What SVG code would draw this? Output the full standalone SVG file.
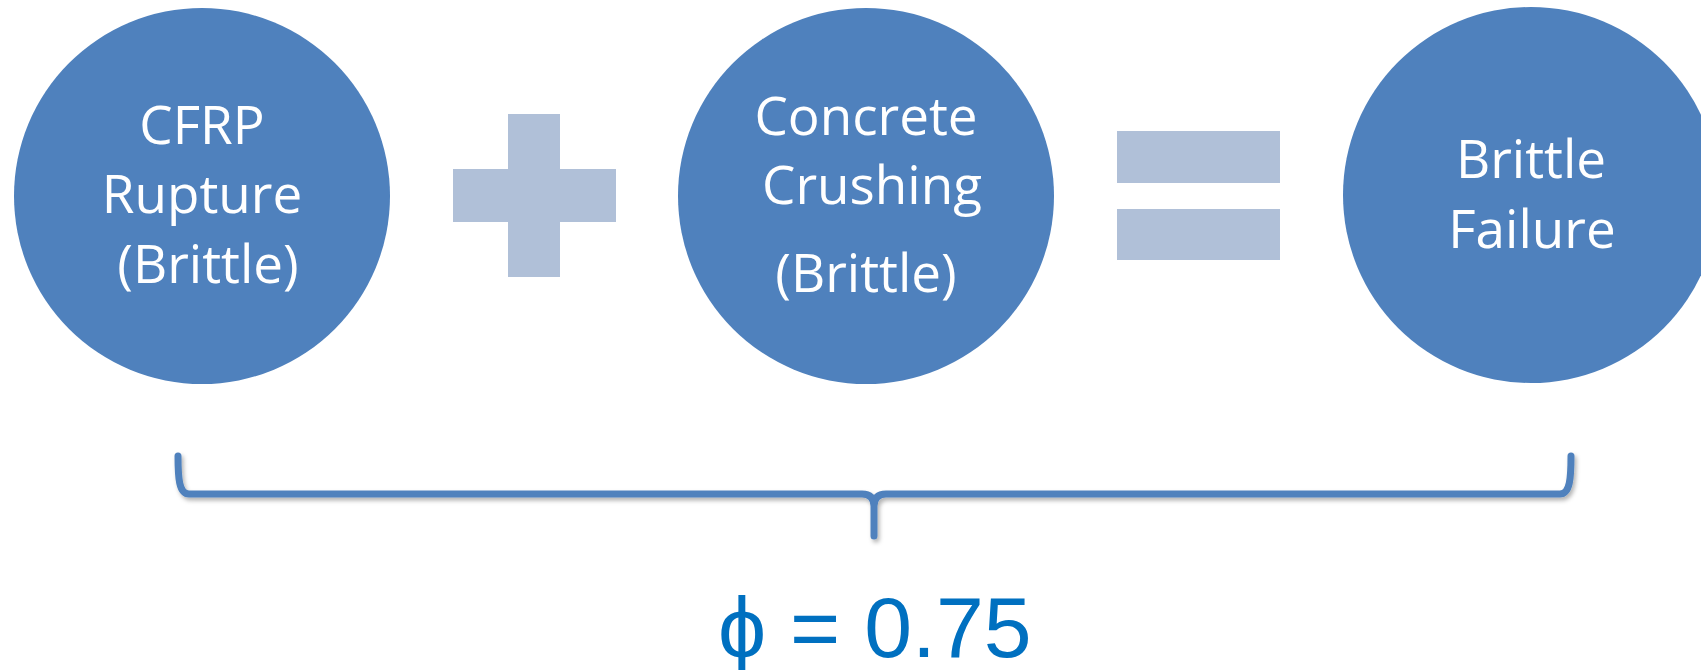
<svg xmlns="http://www.w3.org/2000/svg" width="1701" height="670" viewBox="0 0 1701 670">
  <style>
    .node { fill: #4F81BD; }
    .label { fill: #FFFFFF; font-family: "Open Sans", "Noto Sans", sans-serif; font-size: 53px; text-anchor: middle; font-variant-ligatures: none; }
    .op { fill: #B0C0D8; }
    .brace { fill: none; stroke: #4F81BD; stroke-width: 7; stroke-linecap: round; stroke-linejoin: round; }
    .phi { fill: #0070C0; font-family: "Liberation Sans", Arial, sans-serif; font-size: 86px; }
  </style>
  <defs>
    <filter id="shadow" x="-5%" y="-50%" width="110%" height="200%">
      <feDropShadow dx="2" dy="3" stdDeviation="2" flood-color="#000000" flood-opacity="0.3"/>
    </filter>
  </defs>
  <rect width="1701" height="670" fill="#FFFFFF"/>

  <g id="node-cfrp">
    <circle class="node" cx="202" cy="196" r="188"/>
    <text class="label" x="202" y="144">CFRP</text>
    <text class="label" x="202" y="213">Rupture</text>
    <text class="label" x="208" y="283">(Brittle)</text>
  </g>

  <g id="op-plus">
    <rect class="op" x="508" y="114" width="52" height="163"/>
    <rect class="op" x="453" y="169" width="163" height="53"/>
  </g>

  <g id="node-concrete">
    <circle class="node" cx="866" cy="196" r="188"/>
    <text class="label" x="866" y="135">Concrete</text>
    <text class="label" x="872" y="204">Crushing</text>
    <text class="label" x="866" y="292">(Brittle)</text>
  </g>

  <g id="op-equals">
    <rect class="op" x="1117" y="131" width="163" height="52"/>
    <rect class="op" x="1117" y="209" width="163" height="51"/>
  </g>

  <g id="node-failure">
    <circle class="node" cx="1531" cy="195" r="188"/>
    <text class="label" x="1531" y="178">Brittle</text>
    <text class="label" x="1532" y="248">Failure</text>
  </g>

  <g id="connectors">
    <path class="brace" filter="url(#shadow)" d="M178,456 C178,478 179,494 189,494 L862,494 C870,494 874,498 874,506 L874,536 M1571,456 C1571,478 1570,494 1560,494 L886,494 C878,494 874,498 874,506"/>
  </g>

  <g id="result">
    <text class="phi" x="718" y="657">ϕ = 0.75</text>
  </g>
</svg>
